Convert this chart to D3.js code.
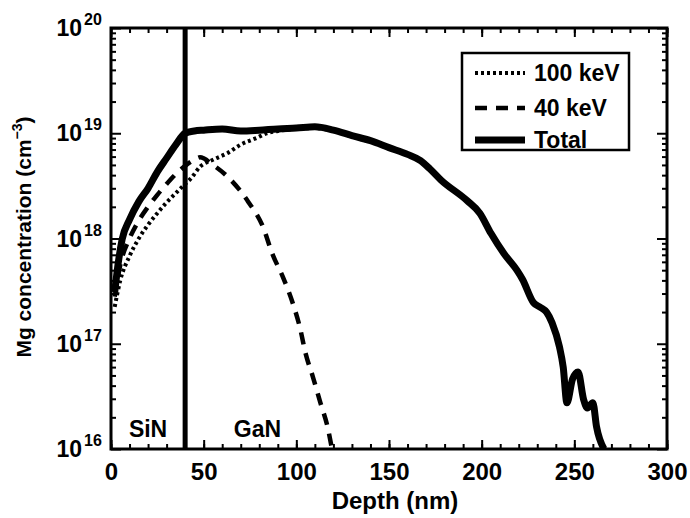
<!DOCTYPE html>
<html><head><meta charset="utf-8">
<script src="https://cdn.jsdelivr.net/npm/d3@7"></script>
<style>
body{margin:0;background:#fff;}
text{font-family:"Liberation Sans",Arial,sans-serif;font-weight:bold;fill:#000;}
</style></head>
<body><svg id="c" width="690" height="518"></svg>
<script>
// ---- data ----
const depthTotal = [2,4,6,10,15,20,25,30,35,40,45,50,60,70,80,90,100,110,120,130,140,150,160,167,172,178,192,199,205,212,219,222,228,232,235,238,242,244,246,249,252,255,257,260,262,266];
const concTotal = [3.09e17,6.0e17,9.8e17,1.51e18,2.24e18,3.0e18,4.3e18,5.8e18,7.8e18,1.0e19,1.05e19,1.07e19,1.10e19,1.05e19,1.07e19,1.10e19,1.12e19,1.15e19,1.07e19,9.5e18,8.5e18,7.3e18,6.3e18,5.5e18,4.6e18,3.6e18,2.3e18,1.74e18,1.12e18,7.2e17,5.0e17,4.1e17,2.45e17,2.2e17,2.0e17,1.58e17,9.3e16,6.0e16,2.75e16,4.6e16,5.4e16,2.95e16,2.45e16,2.75e16,1.62e16,1.0e16];
const depth40 = [2,5,10,15,20,25,30,35,40,45,48,55,64,74,82,87,93,98,102,105,109,113,117,119];
const conc40 = [2.8e17,5.6e17,1.0e18,1.48e18,2.0e18,2.6e18,3.3e18,4.1e18,4.9e18,5.6e18,5.9e18,5.0e18,3.7e18,2.24e18,1.29e18,7.2e17,4.2e17,2.45e17,1.41e17,8.1e16,4.8e16,2.75e16,1.58e16,1.05e16];
const depth100 = [2,5,10,15,20,25,30,35,40,43,48,55,63,70,79,84,90,100,110,120,130,140];
const conc100 = [2.24e17,4.0e17,6.8e17,1.0e18,1.35e18,1.74e18,2.2e18,2.7e18,3.3e18,3.7e18,4.8e18,5.6e18,6.5e18,7.8e18,9.1e18,1.0e19,1.05e19,1.1e19,1.12e19,1.05e19,9.3e18,8.3e18];
const xTicks = [0,50,100,150,200,250,300];
const yTickExps = [16,17,18,19,20];
const interfaceDepth = 40;
const legendLabels = ["100 keV","40 keV","Total"];
const layerLabels = [{t:"SiN",d:20},{t:"GaN",d:79}];

// ---- layout ----
const L=111,R=667,T=28,B=449;
const svg=d3.select("#c");
const x=d3.scaleLinear().domain([0,300]).range([L,R]);
const y=d3.scaleLog().domain([1e16,1e20]).range([B,T]);

const clip=svg.append("defs").append("clipPath").attr("id","pc");
clip.append("rect").attr("x",L).attr("y",T).attr("width",R-L).attr("height",B-T);

// minor ticks
const minorX=d3.range(0,301,10);
const minorY=[];
for(let e=16;e<20;e++){for(let m=2;m<=9;m++)minorY.push(m*Math.pow(10,e));}

function styleAxis(g){g.selectAll("path").remove();g.selectAll("line").attr("stroke","#000").attr("stroke-width",2);}

// bottom
svg.append("g").attr("transform",`translate(0,${B})`).call(d3.axisBottom(x).tickValues(minorX).tickSize(-5).tickFormat("")).call(styleAxis);
svg.append("g").attr("transform",`translate(0,${B})`).call(d3.axisBottom(x).tickValues(xTicks).tickSize(-9).tickPadding(14).tickFormat(d3.format("d")))
  .call(styleAxis).call(g=>g.selectAll("text").attr("font-size",24).attr("font-family","Liberation Sans").attr("font-weight","bold").attr("fill","#000"));
// top
svg.append("g").attr("transform",`translate(0,${T})`).call(d3.axisTop(x).tickValues(minorX).tickSize(-5).tickFormat("")).call(styleAxis);
svg.append("g").attr("transform",`translate(0,${T})`).call(d3.axisTop(x).tickValues(xTicks).tickSize(-9).tickFormat("")).call(styleAxis);
// left
svg.append("g").attr("transform",`translate(${L},0)`).call(d3.axisLeft(y).tickValues(minorY).tickSize(-5).tickFormat("")).call(styleAxis);
svg.append("g").attr("transform",`translate(${L},0)`).call(d3.axisLeft(y).tickValues(yTickExps.map(e=>Math.pow(10,e))).tickSize(-10).tickFormat("")).call(styleAxis);
// right
svg.append("g").attr("transform",`translate(${R},0)`).call(d3.axisRight(y).tickValues(minorY).tickSize(-5).tickFormat("")).call(styleAxis);
svg.append("g").attr("transform",`translate(${R},0)`).call(d3.axisRight(y).tickValues(yTickExps.map(e=>Math.pow(10,e))).tickSize(-10).tickFormat("")).call(styleAxis);

// y tick labels 10^n
yTickExps.forEach(e=>{
  svg.append("text").attr("x",82).attr("y",y(Math.pow(10,e))+8).attr("text-anchor","end").attr("font-size",23).text("10");
  svg.append("text").attr("x",84).attr("y",y(Math.pow(10,e))-3).attr("font-size",16).text(String(e));
});

// frame
svg.append("rect").attr("x",L).attr("y",T).attr("width",R-L).attr("height",B-T).attr("fill","none").attr("stroke","#000").attr("stroke-width",3);

// interface line
svg.append("line").attr("x1",x(interfaceDepth)).attr("x2",x(interfaceDepth)).attr("y1",T).attr("y2",B).attr("stroke","#000").attr("stroke-width",5);

// curves
const line=d3.line().x(d=>x(d[0])).y(d=>y(d[1])).curve(d3.curveMonotoneX);
const plot=svg.append("g").attr("clip-path","url(#pc)");
plot.append("path").datum(d3.zip(depth100,conc100)).attr("d",line).attr("fill","none").attr("stroke","#000").attr("stroke-width",4).attr("stroke-dasharray","3,3");
plot.append("path").datum(d3.zip(depth40,conc40)).attr("d",line).attr("fill","none").attr("stroke","#000").attr("stroke-width",4.5).attr("stroke-dasharray","12,9");
plot.append("path").datum(d3.zip(depthTotal,concTotal)).attr("d",line).attr("fill","none").attr("stroke","#000").attr("stroke-width",7).attr("stroke-linejoin","round");

// layer labels
layerLabels.forEach(l=>svg.append("text").attr("x",x(l.d)).attr("y",437).attr("text-anchor","middle").attr("font-size",23).text(l.t));

// legend
const lg=svg.append("g");
lg.append("rect").attr("x",462).attr("y",53).attr("width",167).attr("height",97).attr("fill","#fff").attr("stroke","#000").attr("stroke-width",2.5);
const styles=[{w:4,da:"3,3"},{w:4.5,da:"12,9"},{w:7,da:null}];
[73,108,140].forEach((yy,i)=>{
  const ln=lg.append("line").attr("x1",475).attr("x2",525).attr("y1",yy).attr("y2",yy).attr("stroke","#000").attr("stroke-width",styles[i].w);
  if(styles[i].da) ln.attr("stroke-dasharray",styles[i].da);
  lg.append("text").attr("x",534).attr("y",yy+8).attr("font-size",23).text(legendLabels[i]);
});

// axis titles
svg.append("text").attr("x",(L+R)/2+6).attr("y",509).attr("text-anchor","middle").attr("font-size",24).text("Depth (nm)");
const yt=svg.append("text").attr("transform","translate(31,237) rotate(-90)").attr("text-anchor","middle").attr("font-size",21);
yt.append("tspan").text("Mg concentration (cm");
yt.append("tspan").attr("font-size",14).attr("dy",-9).text("−3");
yt.append("tspan").attr("dy",9).text(")");
</script></body></html>
